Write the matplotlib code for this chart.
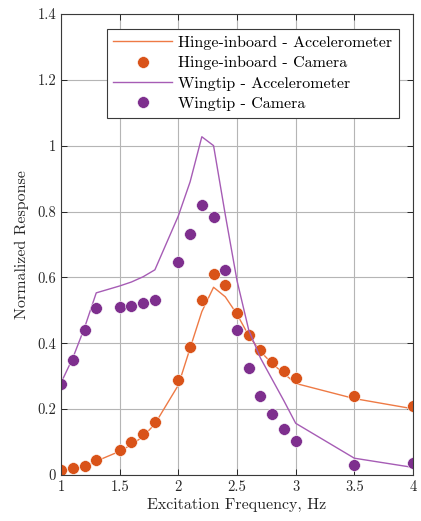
import matplotlib
matplotlib.use('Agg')
import matplotlib.pyplot as plt

plt.rcParams['font.family'] = ['cmr10', 'DejaVu Serif']
plt.rcParams['mathtext.fontset'] = 'cm'
plt.rcParams['axes.formatter.use_mathtext'] = True

# 频率 (Hz)
freq = [1.0, 1.1, 1.2, 1.3, 1.5, 1.6, 1.7, 1.8, 2.0, 2.1, 2.2, 2.3, 2.4,
        2.5, 2.6, 2.7, 2.8, 2.9, 3.0, 3.5, 4.0]

hinge_acc = [0.011, 0.017, 0.025, 0.042, 0.072, 0.092, 0.117, 0.155, 0.273,
             0.385, 0.496, 0.570, 0.541, 0.488, 0.423, 0.375, 0.338, 0.308,
             0.278, 0.232, 0.201]
hinge_cam = [0.015, 0.020, 0.027, 0.045, 0.076, 0.100, 0.125, 0.161, 0.287,
             0.388, 0.532, 0.611, 0.578, 0.491, 0.426, 0.380, 0.343, 0.317,
             0.293, 0.241, 0.211]
tip_acc = [0.280, 0.355, 0.447, 0.553, 0.574, 0.586, 0.602, 0.623, 0.787,
           0.890, 1.027, 1.000, 0.790, 0.590, 0.440, 0.355, 0.290, 0.225,
           0.157, 0.051, 0.023]
tip_cam = [0.275, 0.350, 0.441, 0.506, 0.509, 0.514, 0.521, 0.531, 0.647,
           0.731, 0.820, 0.784, 0.621, 0.440, 0.324, 0.239, 0.184, 0.139,
           0.103, 0.029, 0.035]

labels = ['Hinge-inboard - Accelerometer', 'Hinge-inboard - Camera',
          'Wingtip - Accelerometer', 'Wingtip - Camera']

fig = plt.figure(figsize=(4.21, 5.21), dpi=100)
ax = fig.add_axes([0.145, 0.0883, 0.836, 0.885])

ax.plot(freq, hinge_acc, color='#EE7A45', lw=1.0, label=labels[0])
ax.plot(freq, hinge_cam, 'o', color='#D95319', ms=8.5, mec='white', mew=0.4,
        label=labels[1])
ax.plot(freq, tip_acc, color='#A65CB5', lw=1.0, label=labels[2])
ax.plot(freq, tip_cam, 'o', color='#7E2F8E', ms=8.5, mec='white', mew=0.4,
        label=labels[3])

ax.set_xlim(1, 4)
ax.set_ylim(0, 1.4)
ax.set_xticks([1, 1.5, 2, 2.5, 3, 3.5, 4])
ax.set_xticklabels(['1', '1.5', '2', '2.5', '3', '3.5', '4'])
ax.set_yticks([0, 0.2, 0.4, 0.6, 0.8, 1.0, 1.2, 1.4])
ax.set_yticklabels(['0', '0.2', '0.4', '0.6', '0.8', '1', '1.2', '1.4'])
ax.grid(True, color='#b5b5b5', lw=0.8)
ax.set_axisbelow(True)
ax.tick_params(direction='in', top=True, right=True, length=4,
               labelsize=10.5, colors='#262626', width=0.7)
for s in ax.spines.values():
    s.set_color('#3a3a3a')
    s.set_linewidth(0.8)

ax.set_xlabel('Excitation Frequency, Hz', fontsize=11.5, color='#262626',
              labelpad=3)
ax.set_ylabel('Normalized Response', fontsize=11.5, color='#262626',
              labelpad=6)

leg = ax.legend(loc='upper right', bbox_to_anchor=(0.96, 0.967),
                borderaxespad=0, fontsize=11.5, fancybox=False, framealpha=1,
                edgecolor='#3a3a3a', handlelength=3.7, labelspacing=0.38,
                borderpad=0.42, handletextpad=0.35)
leg.get_frame().set_linewidth(0.8)

plt.savefig('out.png', dpi=100)
